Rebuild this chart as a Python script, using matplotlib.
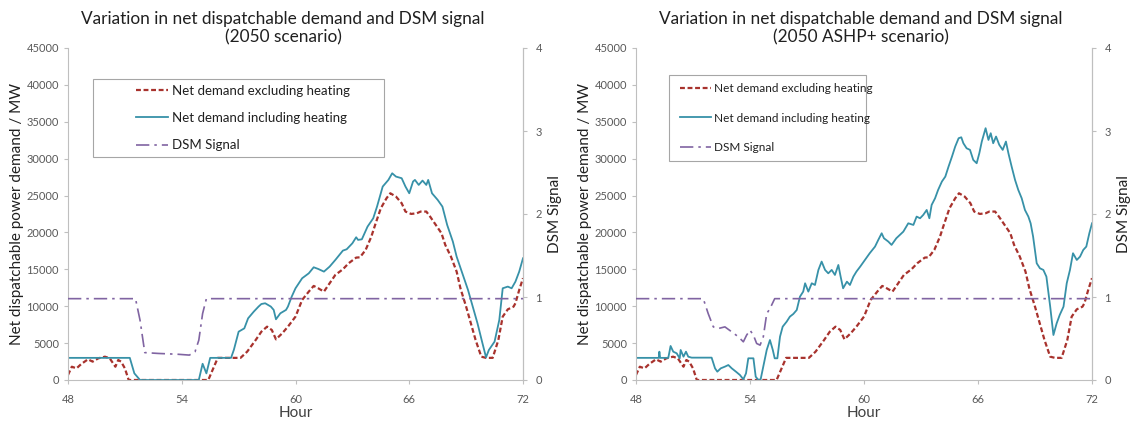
import matplotlib
matplotlib.use("Agg")
import matplotlib.pyplot as plt
from matplotlib.patches import Rectangle

plt.rcParams['font.family'] = ['Lato', 'DejaVu Sans']

# Net demand excluding heating (same in both scenarios), MW
excl_hours = [48.0, 48.2, 48.45, 48.7, 49.05, 49.3, 49.6, 49.95, 50.2, 50.5, 50.65, 50.8, 51.0, 51.2,
              55.4, 55.9, 57.1, 57.45, 57.9, 58.2, 58.5, 58.75, 58.97, 59.3, 59.6, 60.0, 60.35, 60.7,
              60.96, 61.2, 61.5, 61.8, 62.1, 62.5, 62.8, 63.2, 63.4, 63.7, 64.0, 64.2, 64.5, 64.8,
              65.0, 65.3, 65.6, 65.8, 66.1, 66.4, 66.6, 66.9, 67.1, 67.4, 67.7, 67.9, 68.2, 68.5,
              68.7, 69.0, 69.25, 69.5, 69.8, 70.05, 70.4, 70.7, 70.93, 71.2, 71.5, 71.6, 71.8, 72.0]
excl_mw = [680, 1800, 1580, 2170, 2800, 2490, 2940, 3160, 2940, 1800, 2710, 2490, 1580, 0,
           0, 3000, 3000, 3840, 5420, 6550, 7230, 6780, 5510, 6330, 7230, 8590, 10850, 11980,
           12750, 12430, 11980, 13110, 14240, 15010, 15820, 16590, 16630, 17630, 19440, 21020, 23280, 24630,
           25310, 24860, 23960, 22830, 22510, 22600, 22830, 22830, 22150, 21020, 19890, 18310, 16720, 14690,
           12430, 9940, 7680, 5420, 3160, 3000, 3000, 5420, 8590, 9580, 9940, 10400, 12200, 13800]

# 2050 scenario: net demand including heating, MW
incl_hours_a = [48.0, 51.26, 51.5, 51.8, 54.9, 55.1, 55.3, 55.5, 56.6, 56.75, 57.0, 57.3, 57.5, 57.8,
                58.05, 58.2, 58.4, 58.7, 58.85, 58.97, 59.2, 59.5, 59.6, 59.8, 60.0, 60.35, 60.7, 60.96,
                61.2, 61.5, 61.8, 62.1, 62.5, 62.7, 63.0, 63.2, 63.3, 63.5, 63.8, 64.1, 64.3, 64.6,
                64.9, 65.1, 65.3, 65.6, 65.8, 66.0, 66.2, 66.3, 66.5, 66.7, 66.9, 67.0, 67.2, 67.5,
                67.75, 68.0, 68.3, 68.5, 68.8, 69.1, 69.35, 69.6, 69.84, 70.05, 70.2, 70.5, 70.75, 70.93,
                71.2, 71.4, 71.6, 71.8, 72.0]
incl_mw_a = [3000, 3000, 900, 0, 0, 2200, 900, 3000, 3000, 4100, 6550, 7000, 8360, 9270,
             9950, 10300, 10400, 9950, 9500, 8230, 9040, 9500, 9950, 11300, 12430, 13790, 14460, 15280,
             15050, 14690, 15370, 16270, 17540, 17720, 18530, 19350, 18990, 19070, 20790, 21920, 23500, 26220,
             27120, 28020, 27570, 27350, 26220, 25310, 26900, 27120, 26440, 27030, 26440, 27120, 25310, 24410,
             23500, 21020, 18760, 16720, 14460, 12200, 9940, 7680, 5200, 3070, 4070, 5200, 8140, 12430,
             12660, 12430, 13330, 14690, 16500]

# 2050 ASHP+ scenario: net demand including heating, MW
incl_hours_b = [48.0, 49.2, 49.23, 49.27, 49.7, 49.82, 49.96, 50.14, 50.3, 50.35, 50.5, 50.63, 50.75, 50.93,
                51.98, 52.16, 52.28, 52.46, 52.68, 52.86, 53.04, 53.26, 53.47, 53.65, 53.79, 53.91, 54.18, 54.3,
                54.44, 54.56, 54.7, 54.88, 55.05, 55.2, 55.3, 55.44, 55.58, 55.72, 55.93, 56.1, 56.28, 56.46,
                56.63, 56.8, 56.9, 57.07, 57.25, 57.42, 57.6, 57.77, 57.95, 58.12, 58.3, 58.47, 58.65, 58.77,
                58.9, 59.1, 59.26, 59.44, 59.6, 59.8, 60.05, 60.3, 60.58, 60.75, 60.93, 61.05, 61.28, 61.45,
                61.7, 62.07, 62.33, 62.6, 62.77, 62.95, 63.12, 63.3, 63.44, 63.56, 63.74, 63.9, 64.1, 64.28,
                64.45, 64.63, 64.8, 64.98, 65.12, 65.23, 65.4, 65.58, 65.75, 65.93, 66.07, 66.2, 66.3, 66.4,
                66.55, 66.67, 66.8, 66.95, 67.12, 67.3, 67.47, 67.6, 67.77, 67.95, 68.12, 68.3, 68.47, 68.65,
                68.77, 68.9, 69.09, 69.26, 69.44, 69.6, 69.8, 69.97, 70.14, 70.3, 70.5, 70.67, 70.84, 71.0,
                71.2, 71.37, 71.54, 71.7, 71.86, 72.0]
incl_mw_b = [3000, 3000, 3840, 3000, 3000, 4610, 3840, 3620, 2940, 4070, 3160, 3840, 3160, 3030,
             3030, 1580, 1130, 1580, 1810, 2030, 1580, 1130, 680, 90, 900, 2940, 2940, 450,
             0, 90, 1810, 4070, 5420, 4070, 2940, 2940, 5880, 7230, 7910, 8590, 8950, 9490,
             11300, 11980, 13110, 11980, 13110, 12880, 14920, 16050, 14920, 14460, 14920, 14240, 15590, 14010,
             12430, 13330, 12880, 14010, 14690, 15370, 16270, 17180, 18080, 18980, 19890, 19210, 18760, 18310,
             19210, 20110, 21240, 21020, 22150, 21920, 22380, 23050, 21920, 23730, 24630, 25760, 26900, 27570,
             28930, 30280, 31640, 32770, 32900, 32090, 31410, 31190, 29830, 29380, 30740, 32320, 33220, 34130,
             32540, 33450, 32090, 33000, 31870, 31190, 32320, 30740, 28930, 27120, 25760, 24630, 23050, 22150,
             21240, 19440, 15820, 15140, 14920, 14010, 9940, 6100, 7680, 8810, 9940, 13110, 14920, 17180,
             16270, 16720, 17630, 18080, 19890, 21240]

# DSM signal (right axis)
dsm_hours_a = [48.0, 51.56, 51.8, 52.05, 52.76, 53.8, 54.4, 54.7, 54.9, 55.1, 55.3, 72.0]
dsm_a = [0.98, 0.98, 0.72, 0.33, 0.32, 0.31, 0.30, 0.34, 0.48, 0.80, 0.98, 0.98]
dsm_hours_b = [48.0, 51.54, 51.8, 52.07, 52.33, 52.68, 53.04, 53.39, 53.65, 53.82, 54.0, 54.18,
               54.35, 54.53, 54.7, 54.88, 55.05, 55.3, 72.0]
dsm_b = [0.98, 0.98, 0.80, 0.64, 0.62, 0.64, 0.58, 0.52, 0.46, 0.54, 0.60, 0.54,
         0.44, 0.42, 0.52, 0.80, 0.86, 0.98, 0.98]

titles = ['Variation in net dispatchable demand and DSM signal\n(2050 scenario)',
          'Variation in net dispatchable demand and DSM signal\n(2050 ASHP+ scenario)']

red = '#A8322D'
teal = '#3791A8'
purple = '#8064A2'
grey_txt = '#595959'
grey_line = '#BFBFBF'

fig = plt.figure(figsize=(11.3, 4.3), dpi=100)
W, H = 1130, 430
ax_a = fig.add_axes([68 / W, 50 / H, 455 / W, 332 / H])
ax_b = fig.add_axes([636 / W, 50 / H, 456 / W, 332 / H])

# legend box (x0, y0, x1, y1) and handle start / middle row, in axes fractions
panels = [
    dict(ax=ax_a, ih=incl_hours_a, iv=incl_mw_a, dh=dsm_hours_a, dv=dsm_a, title=titles[0], tx=0.473,
         box=(0.055, 0.672, 0.695, 0.907), anchor=(0.150, 0.789), fs=9.5, lsp=1.15, hl=2.4),
    dict(ax=ax_b, ih=incl_hours_b, iv=incl_mw_b, dh=dsm_hours_b, dv=dsm_b, title=titles[1], tx=0.493,
         box=(0.072, 0.659, 0.505, 0.920), anchor=(0.097, 0.789), fs=8.5, lsp=1.6, hl=2.6),
]

for p in panels:
    ax = p['ax']
    ax2 = ax.twinx()
    l1, = ax.plot(excl_hours, excl_mw, color=red, ls=(0, (2.2, 1.2)), lw=1.6,
                  label='Net demand excluding heating')
    l2, = ax.plot(p['ih'], p['iv'], color=teal, lw=1.3, label='Net demand including heating')
    l3, = ax2.plot(p['dh'], p['dv'], color=purple, ls=(0, (8, 3, 1.5, 3)), lw=1.2, label='DSM Signal')

    ax.set_xlim(48, 72)
    ax.set_ylim(0, 45000)
    ax2.set_ylim(0, 4)
    ax.set_xticks([48, 54, 60, 66, 72])
    ax.set_yticks(range(0, 45001, 5000))
    ax2.set_yticks([0, 1, 2, 3, 4])

    for a in (ax, ax2):
        for s in a.spines.values():
            s.set_color(grey_line)
        a.spines['top'].set_visible(False)
        a.tick_params(colors=grey_line, labelcolor=grey_txt, labelsize=8, length=3)
    ax.tick_params(axis='x', pad=7)
    ax2.tick_params(axis='y', pad=6)
    ax2.spines['left'].set_visible(False)
    ax2.spines['bottom'].set_visible(False)

    ax.set_xlabel('Hour', fontsize=11, color='#404040', labelpad=1)
    ax.set_ylabel('Net dispatchable power demand / MW', fontsize=11, color='#202020', labelpad=2)
    ax2.set_ylabel('DSM Signal', fontsize=11, color='#202020', labelpad=4)
    ax.set_title(p['title'], fontsize=12.4, color='#202020', pad=4, linespacing=1.2, x=p['tx'])

    x0, y0, x1, y1 = p['box']
    ax2.add_patch(Rectangle((x0, y0), x1 - x0, y1 - y0, transform=ax.transAxes,
                            facecolor='white', edgecolor='#A6A6A6', lw=0.8, zorder=5))
    leg = ax2.legend(handles=[l1, l2, l3], loc='center left', bbox_to_anchor=p['anchor'],
                     bbox_transform=ax.transAxes, fontsize=p['fs'], labelspacing=p['lsp'],
                     handlelength=p['hl'], handletextpad=0.3, borderpad=0, borderaxespad=0,
                     frameon=False)
    leg.set_zorder(6)
    for t in leg.get_texts():
        t.set_color('#202020')

fig.savefig('out.png', dpi=100)
